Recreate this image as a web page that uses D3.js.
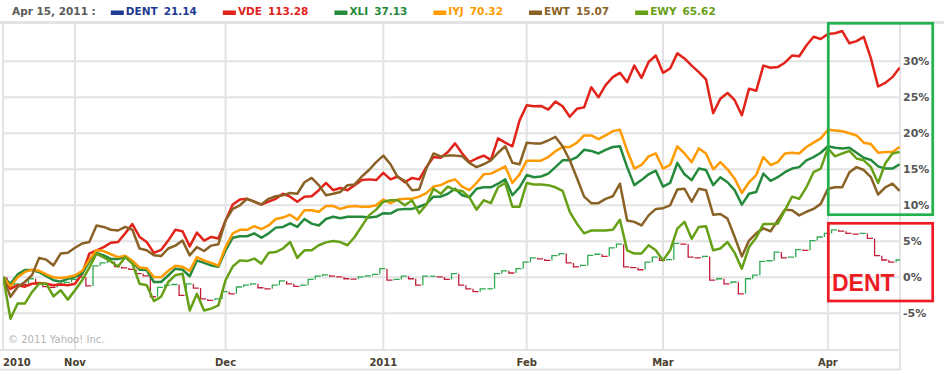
<!DOCTYPE html>
<html>
<head>
<meta charset="utf-8">
<script src="https://cdnjs.cloudflare.com/ajax/libs/d3/7.8.5/d3.min.js"></script>
<style>
body { margin: 0; background: #fff; }
svg { display: block; font-family: "DejaVu Sans", Verdana, sans-serif; }
</style>
</head>
<body>
<svg id="chart" width="944" height="374"></svg>
<script>
// header
var dateLabel = "Apr 15, 2011 :";
var symbols = ["DENT", "VDE", "XLI", "IYJ", "EWT", "EWY"];
var lastPrices = ["21.14", "113.28", "37.13", "70.32", "15.07", "65.62"];

// % change since Oct 18 2010, one value per trading day
var dent = [0, -1.3, -0.9, -1.0, -0.2, -0.9, -1.3, -1.4, -0.9, -0.7, -0.3, 0.0, -1.2, 1.6, 2.0, 2.2, 1.5, 1.3, 1.1, 0.5, 0.2, -2.7, -1.4, -1.1, -1.0, -2.5, -0.9, -1.5, -3.0, -3.2, -3.0, -2.0, -2.3,
	-1.35, -1.1, -0.9, -1.45, -1.6, -1.1, -0.5, -0.9, -1.25, -1.1, -0.3, 0.15, 0.35, 0.15, 0.05, -0.2, -0.25, 0.05, 0.2, 0.4, 1.2, -0.4, -0.3, 0.15, -0.2, -1.1, 0.15, 0.15, 0.05, -0.3, 0.5,
	-1.1, -1.6, -2.0, -1.6, -1.6, 0.5, 0.9, 0.6, 1.2, 2.1, 2.7, 2.55, 2.35, 3.0, 3.3, 2.0, 1.45, 1.65, 3.05, 3.2, 2.9, 4.1, 4.6, 1.45, 1.35, 1.05, 2.1, 2.8, 2.35, 2.45, 4.7, 4.6,
	2.8, 2.7, 2.9, -0.4, -0.2, -0.9, -0.65, -2.3, -0.2, 0.3, 2.2, 2.3, 3.5, 2.7, 2.8, 3.85, 3.75, 5.1, 5.6, 6.1, 6.6, 6.4, 6.1, 6.0, 6.1, 5.4, 3.0, 2.4, 2.1, 2.4, 3.3];
var vde = [0, -1.6, -1.1, -1.3, -0.9, -0.8, -0.9, -1.1, -1.0, -1.1, -0.9, 0.5, 3.3, 3.75, 4.2, 4.8, 4.9, 6.1, 7.4, 5.6, 4.9, 3.4, 3.8, 5.1, 6.6, 6.4, 4.3, 6.2, 5.1, 5.6, 5.4, 7.9, 10.1,
	10.8, 10.9, 10.5, 10.1, 10.5, 10.9, 11.6, 11.2, 10.5, 11.2, 11.25, 12.1, 13.1, 12.1, 12.4, 12.1, 12.8, 13.5, 13.6, 13.5, 14.5, 13.6, 14.0, 13.2, 13.8, 13.6, 15.3, 16.7, 16.6, 17.4, 18.6,
	17.2, 16.0, 16.5, 16.9, 16.3, 19.3, 18.7, 18.2, 21.8, 23.9, 23.75, 23.8, 23.3, 24.4, 23.75, 22.3, 23.4, 23.6, 26.4, 25.0, 26.7, 27.8, 28.4, 27.1, 29.4, 27.7, 29.9, 30.8, 28.4, 29.0, 31.1, 30.4,
	29.4, 28.5, 27.5, 22.8, 24.8, 25.6, 24.6, 22.5, 26.2, 25.9, 29.4, 29.1, 29.2, 29.8, 30.8, 30.7, 32.2, 33.4, 33.1, 33.8, 33.9, 34.2, 32.5, 32.8, 33.4, 30.4, 26.5, 27.0, 27.8, 29.1];
var xli = [0, -0.9, 0.4, 1.0, 1.0, 0.7, 0.15, -0.4, -0.6, -0.2, 0.05, 0.5, 2.2, 3.4, 3.05, 2.55, 2.55, 2.8, 2.1, 1.05, 1.0, -0.65, -0.65, 0.25, 1.2, 1.05, 0.15, 2.35, 2.0, 1.65, 1.45, 3.75, 5.5,
	5.7, 5.7, 6.1, 5.5, 6.1, 6.9, 7.0, 7.5, 7.0, 8.1, 7.45, 7.2, 8.1, 8.4, 8.2, 8.4, 8.4, 8.4, 8.3, 8.4, 8.9, 8.85, 9.4, 9.5, 9.5, 9.8, 10.2, 11.2, 11.2, 11.6, 12.3,
	11.4, 11.1, 12.3, 12.5, 12.5, 13.0, 13.6, 11.4, 12.5, 14.2, 13.9, 14.0, 14.4, 15.3, 16.25, 16.25, 16.7, 17.7, 17.55, 17.2, 17.7, 18.1, 18.2, 15.3, 12.8, 13.5, 14.3, 14.8, 12.6, 13.1, 15.9, 14.3,
	13.5, 15.1, 14.9, 12.8, 13.9, 13.2, 12.1, 10.1, 11.6, 11.85, 14.4, 13.4, 13.9, 14.6, 15.1, 15.3, 16.25, 16.7, 17.3, 18.2, 18.0, 17.9, 18.0, 17.3, 16.6, 16.3, 15.4, 15.1, 15.1, 15.7];
var iyj = [0, -1.25, 0, 0.75, 1.05, 0.9, 0.4, 0, -0.1, 0.05, 0.25, 0.9, 2.45, 3.75, 3.65, 3.2, 2.8, 3.0, 2.3, 1.35, 1.25, 0.05, 0, 0.9, 1.6, 1.45, 0.9, 2.8, 2.35, 2.0, 1.6, 4.2, 6.1,
	6.6, 6.6, 7.1, 6.7, 7.2, 8.1, 8.3, 8.7, 8.0, 9.3, 9.3, 9.1, 9.9, 9.9, 9.5, 9.8, 9.9, 9.8, 9.8, 10.0, 10.8, 10.3, 10.8, 10.9, 10.9, 11.2, 11.7, 12.6, 12.8, 13.3, 13.6,
	12.6, 12.1, 13.1, 14.3, 14.4, 14.9, 15.4, 13.1, 14.3, 16.2, 16.2, 16.2, 16.7, 17.5, 18.1, 18.1, 18.7, 19.7, 19.7, 19.2, 19.7, 20.3, 20.5, 17.6, 15.1, 15.6, 16.8, 17.2, 15.1, 15.6, 18.2, 17.2,
	16.0, 17.9, 17.2, 15.0, 16.0, 15.0, 13.7, 11.7, 13.2, 14.2, 16.7, 15.6, 16.0, 17.2, 17.3, 17.2, 18.1, 18.7, 19.3, 20.5, 20.4, 20.3, 20.0, 19.7, 18.7, 18.5, 17.3, 17.4, 17.4, 18.1];
var ewt = [0, -2.7, -1.35, -0.65, 0.3, 2.7, 2.45, 1.65, 3.3, 3.4, 4.1, 4.7, 4.9, 7.2, 7.0, 6.6, 6.5, 7.0, 6.6, 4.0, 3.75, 3.05, 2.95, 4.0, 4.4, 5.1, 3.05, 4.2, 3.65, 4.4, 4.6, 7.9, 9.5,
	10.0, 10.9, 10.5, 10.1, 10.9, 11.25, 11.4, 11.7, 11.6, 13.2, 13.8, 12.8, 11.4, 11.6, 11.85, 12.8, 12.9, 14.0, 14.9, 16.0, 16.9, 15.7, 13.9, 13.4, 12.1, 12.2, 15.1, 17.2, 16.8, 16.9, 16.9,
	16.8, 15.9, 15.3, 15.7, 16.25, 17.3, 18.2, 15.9, 15.7, 18.7, 18.6, 18.6, 19.0, 19.5, 18.2, 16.25, 13.8, 11.2, 10.3, 10.3, 10.9, 11.25, 13.0, 7.9, 7.7, 7.2, 8.6, 9.5, 9.6, 10.0, 12.2, 12.3,
	10.5, 12.3, 12.1, 8.7, 8.8, 8.15, 5.6, 2.9, 5.1, 6.1, 6.8, 6.4, 7.9, 9.4, 9.3, 8.6, 9.1, 9.5, 10.2, 12.3, 12.5, 12.5, 14.6, 15.3, 14.9, 13.9, 11.5, 12.5, 13.0, 12.0];
var ewy = [0, -5.75, -3.65, -3.65, -2.05, -0.9, -0.9, -2.65, -1.8, -3.1, -1.8, -0.4, 1.35, 3.3, 2.75, 2.2, 1.5, 2.8, 1.9, -0.9, -1.1, -3.3, -2.7, -0.65, 0.3, 0.5, -4.6, -2.3, -4.6, -4.35, -3.9, -0.4, 1.5,
	2.35, 2.25, 2.6, 1.9, 3.4, 3.5, 4.0, 4.9, 2.7, 3.75, 3.75, 4.45, 4.85, 5.05, 4.9, 4.45, 5.6, 7.1, 8.6, 9.4, 10.5, 10.7, 10.7, 10.0, 10.7, 8.9, 10.1, 12.3, 11.6, 12.6, 12.1,
	12.0, 11.1, 9.4, 10.7, 10.3, 12.5, 13.1, 9.8, 9.8, 13.1, 12.9, 12.9, 12.8, 12.5, 12.0, 9.1, 7.45, 6.1, 6.5, 6.5, 6.5, 6.6, 8.0, 3.75, 3.3, 3.3, 4.45, 3.75, 2.35, 3.75, 6.75, 7.7,
	5.35, 7.0, 7.1, 3.75, 4.0, 4.9, 3.4, 1.2, 4.2, 5.5, 7.4, 7.4, 7.45, 9.3, 11.2, 10.9, 12.5, 14.6, 15.1, 17.9, 16.8, 17.2, 17.55, 16.5, 16.25, 15.3, 13.1, 15.8, 17.2, 17.4];

// axes
var monthTicks = [0, 10, 31, 53, 73, 92, 115];
var monthLabels = ["2010", "Nov", "Dec", "2011", "Feb", "Mar", "Apr"];
var pctTicks = [-5, 0, 5, 10, 15, 20, 25, 30];

var colors = {
	DENT: "#1f3a93", VDE: "#e2231a", XLI: "#258a3c", IYJ: "#ff9a00", EWT: "#8a6226", EWY: "#66a016"
};
var upColor = "#2eaa52";
var downColor = "#c41e3a";

var svg = d3.select("#chart");
var plotL = 3, plotR = 900, plotT = 22.5, plotB = 350;

var x = d3.scaleLinear().domain([0, vde.length - 1]).range([3.3, 899.6]);
var y = d3.scaleLinear().domain([-10, 35]).range([349.3, 25.3]);

svg.append("defs").append("clipPath").attr("id", "plotclip")
	.append("rect").attr("x", plotL).attr("y", plotT).attr("width", plotR - plotL).attr("height", plotB - plotT);

// grid
var grid = svg.append("g").attr("stroke", "#e3e3e3").attr("stroke-width", 2);
grid.selectAll("line.h").data(pctTicks).enter().append("line").attr("class", "h")
	.attr("x1", plotL).attr("x2", plotR).attr("y1", function(d) { return y(d); }).attr("y2", function(d) { return y(d); });
grid.selectAll("line.v").data(monthTicks.slice(1)).enter().append("line").attr("class", "v")
	.attr("x1", function(d) { return x(d); }).attr("x2", function(d) { return x(d); }).attr("y1", plotT).attr("y2", plotB);
grid.append("line").attr("x1", plotL).attr("x2", plotL).attr("y1", plotT).attr("y2", plotB);
grid.append("line").attr("x1", plotR).attr("x2", plotR).attr("y1", plotT).attr("y2", 370);
svg.append("line").attr("x1", 0).attr("x2", 944).attr("y1", plotT).attr("y2", plotT).attr("stroke", "#e4e4e4").attr("stroke-width", 3);
grid.append("line").attr("x1", 0).attr("x2", plotR).attr("y1", plotB).attr("y2", plotB);
grid.append("line").attr("x1", 0).attr("x2", plotR).attr("y1", 369.5).attr("y2", 369.5);

svg.append("text").attr("x", 8).attr("y", 343).attr("font-size", "10px").attr("fill", "#b4b4b4")
	.text("\u00a9 2011 Yahoo! Inc.");

var plot = svg.append("g").attr("clip-path", "url(#plotclip)");

// DENT as small up/down steps
plot.selectAll("path.dent").data(dent).enter().append("path").attr("class", "dent")
	.attr("fill", "none").attr("stroke-width", 1.3)
	.attr("stroke", function(d, i) { return (i > 0 && d < dent[i - 1]) ? downColor : upColor; })
	.attr("d", function(d, i) {
		var prev = i > 0 ? dent[i - 1] : d;
		return "M" + (x(i) - 3.5) + "," + y(prev) + "V" + y(d) + "H" + (x(i) + 2);
	});

var line = d3.line().x(function(d, i) { return x(i); }).y(function(d) { return y(d); });
var series = [["VDE", vde], ["XLI", xli], ["IYJ", iyj], ["EWT", ewt], ["EWY", ewy]];
plot.selectAll("path.series").data(series).enter().append("path").attr("class", "series")
	.attr("fill", "none").attr("stroke-width", 2.5).attr("stroke-linejoin", "round")
	.attr("stroke", function(d) { return colors[d[0]]; })
	.attr("d", function(d) { return line(d[1]); });

plot.append("circle").attr("cx", x(dent.length - 1)).attr("cy", y(dent[dent.length - 1])).attr("r", 4.5).attr("fill", "#0b1250");

// y labels
svg.selectAll("text.ylab").data(pctTicks).enter().append("text").attr("class", "ylab")
	.attr("x", 903).attr("y", function(d) { return y(d) + 4; })
	.attr("font-size", "11px").attr("font-weight", "bold").attr("fill", "#555")
	.text(function(d) { return d + "%"; });

// x labels
svg.selectAll("text.xlab").data(monthTicks).enter().append("text").attr("class", "xlab")
	.attr("x", function(d, i) { return i == 0 ? plotL : x(d); }).attr("y", 366)
	.attr("text-anchor", function(d, i) { return i == 0 ? "start" : "middle"; })
	.attr("font-size", "10px").attr("font-weight", "bold").attr("fill", "#4a4030")
	.text(function(d, i) { return monthLabels[i]; });

// header legend
var head = svg.append("g").attr("font-size", "10.5px").attr("font-weight", "bold");
var t = head.append("text").attr("x", 12).attr("y", 15).attr("fill", "#5a5a5a").text(dateLabel);
var cx = 12 + t.node().getComputedTextLength() + 15;
symbols.forEach(function(s, i) {
	head.append("rect").attr("x", cx).attr("y", 10.5).attr("width", 13).attr("height", 4.5).attr("fill", colors[s]);
	var n = head.append("text").attr("x", cx + 15).attr("y", 15).attr("fill", colors[s]).text(s);
	var vx = cx + 15 + n.node().getComputedTextLength() + 6;
	var v = head.append("text").attr("x", vx).attr("y", 15).attr("fill", colors[s]).text(lastPrices[i]);
	cx = vx + v.node().getComputedTextLength() + 26;
});

// annotation boxes
svg.append("rect").attr("x", 828.3).attr("y", 23.3).attr("width", 104.4).attr("height", 191.4)
	.attr("fill", "none").attr("stroke", "#22b14c").attr("stroke-width", 2.7);
svg.append("rect").attr("x", 828.3).attr("y", 223.3).attr("width", 104.4).attr("height", 77.7)
	.attr("fill", "none").attr("stroke", "#ed1c24").attr("stroke-width", 2.7);
svg.append("text").attr("x", 832).attr("y", 290.5).attr("font-family", "'Liberation Sans', Arial, sans-serif")
	.attr("font-size", "23px").attr("font-weight", "bold").attr("fill", "#ed1c24").text("DENT");
</script>
</body>
</html>
